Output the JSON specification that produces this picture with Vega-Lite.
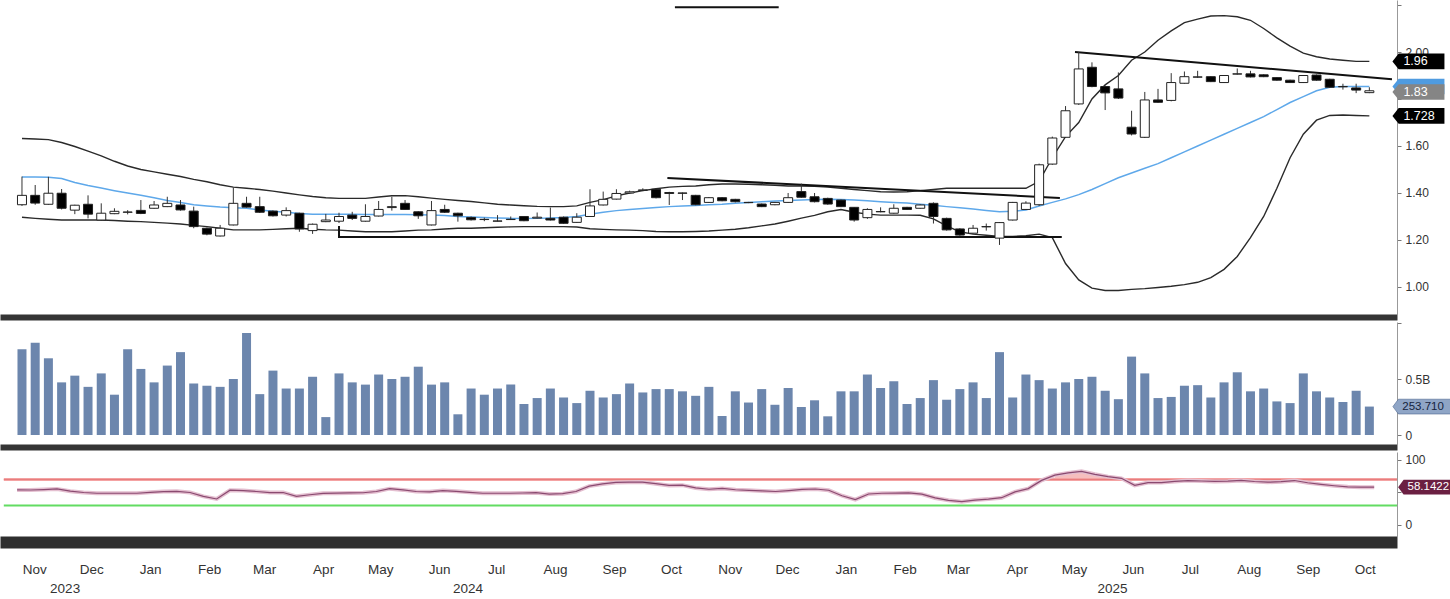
{
  "$schema": "https://vega.github.io/schema/vega-lite/v6.json",
  "padding": 0,
  "background": "white",
  "spacing": 5,
  "config": {
    "view": {"stroke": null},
    "font": "Liberation Sans, Arial, sans-serif",
    "axis": {"labelFont": "Liberation Sans, Arial, sans-serif", "labelColor": "#333", "labelFontSize": 12, "grid": false, "domainColor": "#999", "tickColor": "#777"},
    "text": {"font": "Liberation Sans, Arial, sans-serif"}
  },
  "datasets": {
    "bars": [
      {"d":"2023-10-23","o":1.35,"h":1.47,"l":1.345,"c":1.39,"v":765,"ma":1.468,"ub":1.632,"lb":1.297,"rsi":54},
      {"d":"2023-10-30","o":1.39,"h":1.434,"l":1.35,"c":1.357,"v":824,"ma":1.468,"ub":1.63,"lb":1.292,"rsi":53.8},
      {"d":"2023-11-06","o":1.352,"h":1.469,"l":1.35,"c":1.399,"v":685,"ma":1.467,"ub":1.627,"lb":1.288,"rsi":54.5},
      {"d":"2023-11-13","o":1.399,"h":1.417,"l":1.33,"c":1.335,"v":470,"ma":1.462,"ub":1.615,"lb":1.285,"rsi":55.5},
      {"d":"2023-11-20","o":1.327,"h":1.35,"l":1.31,"c":1.348,"v":530,"ma":1.445,"ub":1.598,"lb":1.285,"rsi":52},
      {"d":"2023-11-27","o":1.352,"h":1.39,"l":1.292,"c":1.31,"v":430,"ma":1.432,"ub":1.578,"lb":1.285,"rsi":50},
      {"d":"2023-12-04","o":1.285,"h":1.356,"l":1.283,"c":1.314,"v":550,"ma":1.421,"ub":1.558,"lb":1.285,"rsi":48.8},
      {"d":"2023-12-11","o":1.312,"h":1.335,"l":1.31,"c":1.322,"v":360,"ma":1.41,"ub":1.535,"lb":1.283,"rsi":48.8},
      {"d":"2023-12-18","o":1.318,"h":1.327,"l":1.309,"c":1.319,"v":765,"ma":1.4,"ub":1.515,"lb":1.28,"rsi":48.8},
      {"d":"2023-12-25","o":1.326,"h":1.37,"l":1.31,"c":1.313,"v":590,"ma":1.39,"ub":1.5,"lb":1.278,"rsi":48.8},
      {"d":"2024-01-01","o":1.335,"h":1.366,"l":1.333,"c":1.349,"v":470,"ma":1.38,"ub":1.49,"lb":1.275,"rsi":50.2},
      {"d":"2024-01-08","o":1.342,"h":1.384,"l":1.34,"c":1.356,"v":620,"ma":1.368,"ub":1.48,"lb":1.272,"rsi":51.4},
      {"d":"2024-01-15","o":1.349,"h":1.37,"l":1.325,"c":1.328,"v":740,"ma":1.36,"ub":1.47,"lb":1.268,"rsi":51.8},
      {"d":"2024-01-22","o":1.323,"h":1.342,"l":1.25,"c":1.257,"v":460,"ma":1.35,"ub":1.458,"lb":1.262,"rsi":50},
      {"d":"2024-01-29","o":1.25,"h":1.253,"l":1.22,"c":1.225,"v":440,"ma":1.345,"ub":1.448,"lb":1.257,"rsi":44},
      {"d":"2024-02-05","o":1.217,"h":1.264,"l":1.215,"c":1.25,"v":430,"ma":1.34,"ub":1.435,"lb":1.25,"rsi":40},
      {"d":"2024-02-12","o":1.264,"h":1.423,"l":1.262,"c":1.356,"v":500,"ma":1.337,"ub":1.425,"lb":1.243,"rsi":53.5},
      {"d":"2024-02-19","o":1.356,"h":1.384,"l":1.338,"c":1.34,"v":910,"ma":1.335,"ub":1.42,"lb":1.243,"rsi":53},
      {"d":"2024-02-26","o":1.342,"h":1.384,"l":1.315,"c":1.318,"v":365,"ma":1.328,"ub":1.415,"lb":1.243,"rsi":51.5},
      {"d":"2024-03-04","o":1.323,"h":1.326,"l":1.3,"c":1.303,"v":575,"ma":1.322,"ub":1.408,"lb":1.245,"rsi":49.8},
      {"d":"2024-03-11","o":1.306,"h":1.339,"l":1.3,"c":1.325,"v":415,"ma":1.318,"ub":1.4,"lb":1.248,"rsi":50},
      {"d":"2024-03-18","o":1.314,"h":1.316,"l":1.235,"c":1.247,"v":415,"ma":1.313,"ub":1.392,"lb":1.25,"rsi":44.1},
      {"d":"2024-03-25","o":1.24,"h":1.27,"l":1.226,"c":1.267,"v":520,"ma":1.31,"ub":1.385,"lb":1.246,"rsi":46.5},
      {"d":"2024-04-01","o":1.278,"h":1.311,"l":1.276,"c":1.285,"v":160,"ma":1.31,"ub":1.38,"lb":1.243,"rsi":48.7},
      {"d":"2024-04-08","o":1.28,"h":1.316,"l":1.272,"c":1.3,"v":550,"ma":1.31,"ub":1.377,"lb":1.242,"rsi":49},
      {"d":"2024-04-15","o":1.306,"h":1.32,"l":1.285,"c":1.292,"v":470,"ma":1.31,"ub":1.377,"lb":1.238,"rsi":49.3},
      {"d":"2024-04-22","o":1.28,"h":1.352,"l":1.278,"c":1.3,"v":450,"ma":1.309,"ub":1.377,"lb":1.235,"rsi":49.6},
      {"d":"2024-04-29","o":1.302,"h":1.366,"l":1.3,"c":1.33,"v":540,"ma":1.309,"ub":1.383,"lb":1.235,"rsi":51.5},
      {"d":"2024-05-06","o":1.338,"h":1.384,"l":1.325,"c":1.342,"v":500,"ma":1.309,"ub":1.388,"lb":1.235,"rsi":55.9},
      {"d":"2024-05-13","o":1.356,"h":1.37,"l":1.328,"c":1.33,"v":520,"ma":1.308,"ub":1.389,"lb":1.238,"rsi":54},
      {"d":"2024-05-20","o":1.32,"h":1.322,"l":1.29,"c":1.303,"v":610,"ma":1.307,"ub":1.384,"lb":1.242,"rsi":51.5},
      {"d":"2024-05-27","o":1.264,"h":1.366,"l":1.262,"c":1.325,"v":450,"ma":1.306,"ub":1.378,"lb":1.243,"rsi":51},
      {"d":"2024-06-03","o":1.33,"h":1.35,"l":1.315,"c":1.318,"v":470,"ma":1.304,"ub":1.373,"lb":1.247,"rsi":53},
      {"d":"2024-06-10","o":1.314,"h":1.316,"l":1.278,"c":1.303,"v":185,"ma":1.3,"ub":1.368,"lb":1.25,"rsi":51.8},
      {"d":"2024-06-17","o":1.296,"h":1.3,"l":1.283,"c":1.286,"v":415,"ma":1.298,"ub":1.364,"lb":1.25,"rsi":50.3},
      {"d":"2024-06-24","o":1.287,"h":1.295,"l":1.28,"c":1.288,"v":360,"ma":1.296,"ub":1.358,"lb":1.252,"rsi":48.8},
      {"d":"2024-07-01","o":1.28,"h":1.306,"l":1.279,"c":1.281,"v":415,"ma":1.294,"ub":1.352,"lb":1.254,"rsi":48.8},
      {"d":"2024-07-08","o":1.287,"h":1.3,"l":1.285,"c":1.288,"v":450,"ma":1.292,"ub":1.349,"lb":1.256,"rsi":48.8},
      {"d":"2024-07-15","o":1.3,"h":1.302,"l":1.28,"c":1.282,"v":277,"ma":1.291,"ub":1.346,"lb":1.257,"rsi":49.2},
      {"d":"2024-07-22","o":1.293,"h":1.317,"l":1.292,"c":1.297,"v":330,"ma":1.292,"ub":1.343,"lb":1.257,"rsi":49.7},
      {"d":"2024-07-29","o":1.292,"h":1.338,"l":1.283,"c":1.285,"v":415,"ma":1.294,"ub":1.342,"lb":1.257,"rsi":47.5},
      {"d":"2024-08-05","o":1.297,"h":1.3,"l":1.269,"c":1.271,"v":335,"ma":1.296,"ub":1.342,"lb":1.257,"rsi":48.2},
      {"d":"2024-08-12","o":1.275,"h":1.314,"l":1.273,"c":1.297,"v":285,"ma":1.3,"ub":1.345,"lb":1.255,"rsi":51.5},
      {"d":"2024-08-19","o":1.3,"h":1.416,"l":1.298,"c":1.345,"v":395,"ma":1.31,"ub":1.36,"lb":1.248,"rsi":59.8},
      {"d":"2024-08-26","o":1.349,"h":1.406,"l":1.347,"c":1.373,"v":335,"ma":1.318,"ub":1.372,"lb":1.245,"rsi":63.2},
      {"d":"2024-09-02","o":1.374,"h":1.416,"l":1.372,"c":1.398,"v":365,"ma":1.325,"ub":1.388,"lb":1.243,"rsi":65.5},
      {"d":"2024-09-09","o":1.4,"h":1.41,"l":1.398,"c":1.405,"v":460,"ma":1.33,"ub":1.4,"lb":1.242,"rsi":65.9},
      {"d":"2024-09-16","o":1.411,"h":1.42,"l":1.408,"c":1.413,"v":380,"ma":1.334,"ub":1.41,"lb":1.24,"rsi":66},
      {"d":"2024-09-23","o":1.416,"h":1.42,"l":1.377,"c":1.38,"v":410,"ma":1.338,"ub":1.418,"lb":1.236,"rsi":63.5},
      {"d":"2024-09-30","o":1.402,"h":1.405,"l":1.349,"c":1.398,"v":410,"ma":1.342,"ub":1.425,"lb":1.235,"rsi":60.8},
      {"d":"2024-10-07","o":1.4,"h":1.402,"l":1.37,"c":1.399,"v":390,"ma":1.345,"ub":1.428,"lb":1.235,"rsi":61.3},
      {"d":"2024-10-14","o":1.39,"h":1.392,"l":1.348,"c":1.35,"v":350,"ma":1.347,"ub":1.43,"lb":1.236,"rsi":57},
      {"d":"2024-10-21","o":1.36,"h":1.383,"l":1.358,"c":1.38,"v":430,"ma":1.35,"ub":1.435,"lb":1.238,"rsi":55},
      {"d":"2024-10-28","o":1.38,"h":1.382,"l":1.365,"c":1.367,"v":170,"ma":1.352,"ub":1.438,"lb":1.242,"rsi":56.3},
      {"d":"2024-11-04","o":1.373,"h":1.375,"l":1.36,"c":1.363,"v":390,"ma":1.356,"ub":1.438,"lb":1.246,"rsi":54.2},
      {"d":"2024-11-11","o":1.36,"h":1.362,"l":1.357,"c":1.359,"v":290,"ma":1.36,"ub":1.437,"lb":1.252,"rsi":53.3},
      {"d":"2024-11-18","o":1.353,"h":1.355,"l":1.34,"c":1.342,"v":410,"ma":1.363,"ub":1.435,"lb":1.26,"rsi":52.4},
      {"d":"2024-11-25","o":1.35,"h":1.362,"l":1.348,"c":1.36,"v":270,"ma":1.366,"ub":1.433,"lb":1.268,"rsi":51.5},
      {"d":"2024-12-02","o":1.36,"h":1.4,"l":1.358,"c":1.38,"v":420,"ma":1.368,"ub":1.43,"lb":1.28,"rsi":53},
      {"d":"2024-12-09","o":1.406,"h":1.44,"l":1.38,"c":1.382,"v":250,"ma":1.37,"ub":1.43,"lb":1.293,"rsi":54.7},
      {"d":"2024-12-16","o":1.384,"h":1.4,"l":1.36,"c":1.363,"v":310,"ma":1.372,"ub":1.428,"lb":1.305,"rsi":55.4},
      {"d":"2024-12-23","o":1.377,"h":1.38,"l":1.35,"c":1.353,"v":167,"ma":1.373,"ub":1.425,"lb":1.32,"rsi":53.4},
      {"d":"2024-12-30","o":1.37,"h":1.372,"l":1.34,"c":1.342,"v":390,"ma":1.372,"ub":1.42,"lb":1.33,"rsi":45},
      {"d":"2025-01-06","o":1.339,"h":1.34,"l":1.278,"c":1.285,"v":390,"ma":1.37,"ub":1.415,"lb":1.318,"rsi":39},
      {"d":"2025-01-13","o":1.295,"h":1.335,"l":1.29,"c":1.33,"v":540,"ma":1.367,"ub":1.41,"lb":1.31,"rsi":47.7},
      {"d":"2025-01-20","o":1.32,"h":1.339,"l":1.318,"c":1.321,"v":420,"ma":1.363,"ub":1.405,"lb":1.306,"rsi":48.8},
      {"d":"2025-01-27","o":1.314,"h":1.352,"l":1.312,"c":1.335,"v":480,"ma":1.36,"ub":1.404,"lb":1.306,"rsi":49},
      {"d":"2025-02-03","o":1.339,"h":1.341,"l":1.328,"c":1.33,"v":277,"ma":1.357,"ub":1.405,"lb":1.306,"rsi":49.4},
      {"d":"2025-02-10","o":1.335,"h":1.351,"l":1.333,"c":1.349,"v":330,"ma":1.352,"ub":1.41,"lb":1.305,"rsi":47.5},
      {"d":"2025-02-17","o":1.356,"h":1.36,"l":1.27,"c":1.3,"v":490,"ma":1.348,"ub":1.415,"lb":1.29,"rsi":41.6},
      {"d":"2025-02-24","o":1.292,"h":1.295,"l":1.24,"c":1.243,"v":315,"ma":1.342,"ub":1.42,"lb":1.26,"rsi":38},
      {"d":"2025-03-03","o":1.247,"h":1.25,"l":1.218,"c":1.221,"v":410,"ma":1.337,"ub":1.42,"lb":1.235,"rsi":35.8},
      {"d":"2025-03-10","o":1.229,"h":1.264,"l":1.227,"c":1.25,"v":470,"ma":1.332,"ub":1.42,"lb":1.225,"rsi":38.3},
      {"d":"2025-03-17","o":1.256,"h":1.27,"l":1.24,"c":1.257,"v":330,"ma":1.326,"ub":1.42,"lb":1.22,"rsi":39.8},
      {"d":"2025-03-24","o":1.208,"h":1.276,"l":1.179,"c":1.274,"v":740,"ma":1.32,"ub":1.42,"lb":1.215,"rsi":42},
      {"d":"2025-03-31","o":1.285,"h":1.362,"l":1.283,"c":1.36,"v":335,"ma":1.322,"ub":1.42,"lb":1.215,"rsi":51},
      {"d":"2025-04-07","o":1.33,"h":1.365,"l":1.328,"c":1.357,"v":540,"ma":1.328,"ub":1.42,"lb":1.218,"rsi":56},
      {"d":"2025-04-14","o":1.35,"h":1.525,"l":1.345,"c":1.52,"v":490,"ma":1.345,"ub":1.45,"lb":1.225,"rsi":68.6},
      {"d":"2025-04-21","o":1.523,"h":1.64,"l":1.52,"c":1.634,"v":415,"ma":1.36,"ub":1.55,"lb":1.21,"rsi":76.7},
      {"d":"2025-04-28","o":1.637,"h":1.77,"l":1.635,"c":1.75,"v":470,"ma":1.375,"ub":1.64,"lb":1.1,"rsi":80.2},
      {"d":"2025-05-05","o":1.779,"h":2.0,"l":1.775,"c":1.928,"v":500,"ma":1.393,"ub":1.7,"lb":1.03,"rsi":82.5},
      {"d":"2025-05-12","o":1.935,"h":1.956,"l":1.85,"c":1.853,"v":520,"ma":1.415,"ub":1.8,"lb":0.995,"rsi":78},
      {"d":"2025-05-19","o":1.853,"h":1.856,"l":1.753,"c":1.826,"v":395,"ma":1.44,"ub":1.86,"lb":0.985,"rsi":74.4},
      {"d":"2025-05-26","o":1.843,"h":1.913,"l":1.8,"c":1.804,"v":320,"ma":1.465,"ub":1.9,"lb":0.985,"rsi":71.8},
      {"d":"2025-06-02","o":1.68,"h":1.75,"l":1.645,"c":1.651,"v":700,"ma":1.485,"ub":1.965,"lb":0.99,"rsi":61},
      {"d":"2025-06-09","o":1.637,"h":1.83,"l":1.634,"c":1.796,"v":550,"ma":1.505,"ub":2.0,"lb":0.993,"rsi":65.3},
      {"d":"2025-06-16","o":1.796,"h":1.843,"l":1.784,"c":1.786,"v":330,"ma":1.525,"ub":2.05,"lb":0.998,"rsi":65.3},
      {"d":"2025-06-23","o":1.794,"h":1.91,"l":1.79,"c":1.87,"v":340,"ma":1.55,"ub":2.09,"lb":1.003,"rsi":67},
      {"d":"2025-06-30","o":1.867,"h":1.917,"l":1.865,"c":1.895,"v":440,"ma":1.575,"ub":2.125,"lb":1.01,"rsi":68.4},
      {"d":"2025-07-07","o":1.893,"h":1.92,"l":1.89,"c":1.894,"v":445,"ma":1.6,"ub":2.14,"lb":1.02,"rsi":67.7},
      {"d":"2025-07-14","o":1.895,"h":1.897,"l":1.872,"c":1.874,"v":335,"ma":1.625,"ub":2.153,"lb":1.04,"rsi":67},
      {"d":"2025-07-21","o":1.87,"h":1.902,"l":1.868,"c":1.9,"v":470,"ma":1.65,"ub":2.155,"lb":1.075,"rsi":67.4},
      {"d":"2025-07-28","o":1.906,"h":1.93,"l":1.904,"c":1.907,"v":560,"ma":1.675,"ub":2.15,"lb":1.13,"rsi":68.5},
      {"d":"2025-08-04","o":1.907,"h":1.92,"l":1.892,"c":1.894,"v":390,"ma":1.7,"ub":2.135,"lb":1.21,"rsi":66.9},
      {"d":"2025-08-11","o":1.903,"h":1.905,"l":1.893,"c":1.895,"v":415,"ma":1.725,"ub":2.1,"lb":1.3,"rsi":65.8},
      {"d":"2025-08-18","o":1.891,"h":1.893,"l":1.878,"c":1.88,"v":300,"ma":1.755,"ub":2.06,"lb":1.42,"rsi":66.6},
      {"d":"2025-08-25","o":1.88,"h":1.882,"l":1.868,"c":1.87,"v":285,"ma":1.785,"ub":2.025,"lb":1.55,"rsi":68.4},
      {"d":"2025-09-01","o":1.87,"h":1.902,"l":1.868,"c":1.9,"v":550,"ma":1.81,"ub":1.995,"lb":1.65,"rsi":65},
      {"d":"2025-09-08","o":1.902,"h":1.904,"l":1.878,"c":1.88,"v":390,"ma":1.835,"ub":1.98,"lb":1.71,"rsi":62.5},
      {"d":"2025-09-15","o":1.884,"h":1.886,"l":1.848,"c":1.85,"v":335,"ma":1.85,"ub":1.97,"lb":1.73,"rsi":60.4},
      {"d":"2025-09-22","o":1.852,"h":1.865,"l":1.84,"c":1.853,"v":295,"ma":1.853,"ub":1.965,"lb":1.732,"rsi":58.7},
      {"d":"2025-09-29","o":1.847,"h":1.865,"l":1.825,"c":1.838,"v":395,"ma":1.853,"ub":1.96,"lb":1.73,"rsi":58.2},
      {"d":"2025-10-06","o":1.827,"h":1.85,"l":1.825,"c":1.835,"v":254,"ma":1.853,"ub":1.96,"lb":1.728,"rsi":58.14}
    ],
    "lines": [
      {"id":"A","i":0,"d":"2024-09-29","p":1.464},
      {"id":"A","i":1,"d":"2025-04-25","p":1.379},
      {"id":"B","i":0,"d":"2024-04-08","p":1.26},
      {"id":"B","i":1,"d":"2024-04-08","p":1.213},
      {"id":"B","i":2,"d":"2025-04-26","p":1.213},
      {"id":"C","i":0,"d":"2025-05-03","p":2.0},
      {"id":"C","i":1,"d":"2025-10-18","p":1.884},
      {"id":"D","i":0,"d":"2024-10-03","p":2.19},
      {"id":"D","i":1,"d":"2024-11-27","p":2.19}
    ],
    "tags": [
      {"panel":"p","kind":"band","label":"1.96","v":1.96},
      {"panel":"p","kind":"ma","label":"","v":1.853},
      {"panel":"p","kind":"px","label":"1.83","v":1.83},
      {"panel":"p","kind":"band","label":"1.728","v":1.728},
      {"panel":"v","kind":"vol","label":"253.710","v":253.71},
      {"panel":"r","kind":"rsi","label":"58.1422","v":58.1422}
    ]
  },
  "vconcat": [
    {
      "width": 1397,
      "height": 317,
      "layer": [
        {
          "data": {"name": "bars"},
          "mark": {"type": "line", "color": "#2a2a2a", "strokeWidth": 1.4},
          "encoding": {
            "x": {"field": "d", "type": "temporal", "scale": {"type": "utc", "domain": [{"year":2023,"month":10,"date":14,"utc":true},{"year":2025,"month":10,"date":18,"utc":true}]}, "axis": {"labels": false, "ticks": false, "domain": true, "domainWidth": 6, "domainColor": "#353535", "title": null}},
            "y": {"field": "ub", "type": "quantitative", "scale": {"domain": [0.8723, 2.2213], "nice": false, "zero": false}, "axis": {"orient": "right", "title": null, "format": ".2f", "tickCount": 7, "labelExpr": "(datum.value > 2.15 || (datum.value > 1.75 && datum.value < 1.85)) ? '' : datum.label", "tickSize": 4, "labelPadding": 4}}
          }
        },
        {
          "data": {"name": "bars"},
          "mark": {"type": "line", "color": "#2a2a2a", "strokeWidth": 1.4},
          "encoding": {
            "x": {"field": "d", "type": "temporal", "scale": {"type": "utc", "domain": [{"year":2023,"month":10,"date":14,"utc":true},{"year":2025,"month":10,"date":18,"utc":true}]}},
            "y": {"field": "lb", "type": "quantitative", "scale": {"domain": [0.8723, 2.2213], "nice": false, "zero": false}}
          }
        },
        {
          "data": {"name": "bars"},
          "mark": {"type": "line", "color": "#5ea8ea", "strokeWidth": 1.5},
          "encoding": {
            "x": {"field": "d", "type": "temporal", "scale": {"type": "utc", "domain": [{"year":2023,"month":10,"date":14,"utc":true},{"year":2025,"month":10,"date":18,"utc":true}]}},
            "y": {"field": "ma", "type": "quantitative", "scale": {"domain": [0.8723, 2.2213], "nice": false, "zero": false}}
          }
        },
        {
          "data": {"name": "lines"},
          "mark": {"type": "line", "color": "#111", "strokeWidth": 2},
          "encoding": {
            "x": {"field": "d", "type": "temporal", "scale": {"type": "utc", "domain": [{"year":2023,"month":10,"date":14,"utc":true},{"year":2025,"month":10,"date":18,"utc":true}]}},
            "y": {"field": "p", "type": "quantitative", "scale": {"domain": [0.8723, 2.2213], "nice": false, "zero": false}},
            "detail": {"field": "id"},
            "order": {"field": "i"}
          }
        },
        {
          "data": {"name": "bars"},
          "mark": {"type": "rule", "color": "#333", "strokeWidth": 1},
          "encoding": {
            "x": {"field": "d", "type": "temporal", "scale": {"type": "utc", "domain": [{"year":2023,"month":10,"date":14,"utc":true},{"year":2025,"month":10,"date":18,"utc":true}]}},
            "y": {"field": "l", "type": "quantitative", "scale": {"domain": [0.8723, 2.2213], "nice": false, "zero": false}},
            "y2": {"field": "h"}
          }
        },
        {
          "data": {"name": "bars"},
          "mark": {"type": "bar", "width": 9, "stroke": "#222", "strokeWidth": 1},
          "encoding": {
            "x": {"field": "d", "type": "temporal", "scale": {"type": "utc", "domain": [{"year":2023,"month":10,"date":14,"utc":true},{"year":2025,"month":10,"date":18,"utc":true}]}},
            "y": {"field": "o", "type": "quantitative", "scale": {"domain": [0.8723, 2.2213], "nice": false, "zero": false}},
            "y2": {"field": "c"},
            "fill": {"condition": {"test": "datum.c < datum.o", "value": "#000"}, "value": "#fff"}
          }
        },
        {
          "data": {"name": "tags"},
          "transform": [{"filter": "datum.panel == 'p'"}],
          "mark": {"type": "point", "shape": "M-1,0L-0.76,-0.3L1,-0.3L1,0.3L-0.76,0.3Z", "filled": true, "size": 2704, "opacity": 1, "strokeWidth": 0},
          "encoding": {
            "x": {"datum": {"year":2025,"month":11,"date":1,"utc":true}, "type": "temporal", "scale": {"type": "utc", "domain": [{"year":2023,"month":10,"date":14,"utc":true},{"year":2025,"month":10,"date":18,"utc":true}]}},
            "y": {"field": "v", "type": "quantitative", "scale": {"domain": [0.8723, 2.2213], "nice": false, "zero": false}},
            "color": {"field": "kind", "type": "nominal", "scale": {"domain": ["band","ma","px"], "range": ["#000000","#4f9be0","#858585"]}, "legend": null}
          }
        },
        {
          "data": {"name": "tags"},
          "transform": [{"filter": "datum.panel == 'p'"}],
          "mark": {"type": "text", "align": "left", "baseline": "middle", "dx": -15, "fontSize": 12.5, "color": "#fff"},
          "encoding": {
            "x": {"datum": {"year":2025,"month":11,"date":1,"utc":true}, "type": "temporal", "scale": {"type": "utc", "domain": [{"year":2023,"month":10,"date":14,"utc":true},{"year":2025,"month":10,"date":18,"utc":true}]}},
            "y": {"field": "v", "type": "quantitative", "scale": {"domain": [0.8723, 2.2213], "nice": false, "zero": false}},
            "text": {"field": "label"}
          }
        }
      ]
    },
    {
      "width": 1397,
      "height": 125,
      "layer": [
        {
          "data": {"name": "bars"},
          "mark": {"type": "bar", "width": 9, "color": "#6c86ad"},
          "encoding": {
            "x": {"field": "d", "type": "temporal", "scale": {"type": "utc", "domain": [{"year":2023,"month":10,"date":14,"utc":true},{"year":2025,"month":10,"date":18,"utc":true}]}, "axis": {"labels": false, "ticks": false, "domain": true, "domainWidth": 6, "domainColor": "#353535", "title": null}},
            "y": {"field": "v", "type": "quantitative", "scale": {"domain": [-107, 1009], "nice": false, "zero": false}, "axis": {"orient": "right", "title": null, "values": [0, 250, 500, 750, 1000], "labelExpr": "datum.value == 0 ? '0' : datum.value == 500 ? '0.5B' : ''", "tickSize": 4, "labelPadding": 4}},
            "y2": {"datum": 0}
          }
        },
        {
          "data": {"name": "tags"},
          "transform": [{"filter": "datum.panel == 'v'"}],
          "mark": {"type": "point", "shape": "M-1,0L-0.8,-0.27L1.2,-0.27L1.2,0.27L-0.8,0.27Z", "filled": true, "size": 3000, "opacity": 1, "stroke": "#4d6790", "strokeWidth": 0.6, "color": "#8fa5c6"},
          "encoding": {
            "x": {"datum": {"year":2025,"month":11,"date":2,"utc":true}, "type": "temporal", "scale": {"type": "utc", "domain": [{"year":2023,"month":10,"date":14,"utc":true},{"year":2025,"month":10,"date":18,"utc":true}]}},
            "y": {"field": "v", "type": "quantitative", "scale": {"domain": [-107, 1009], "nice": false, "zero": false}}
          }
        },
        {
          "data": {"name": "tags"},
          "transform": [{"filter": "datum.panel == 'v'"}],
          "mark": {"type": "text", "align": "left", "baseline": "middle", "dx": -18, "fontSize": 11.5, "color": "#15233d"},
          "encoding": {
            "x": {"datum": {"year":2025,"month":11,"date":2,"utc":true}, "type": "temporal", "scale": {"type": "utc", "domain": [{"year":2023,"month":10,"date":14,"utc":true},{"year":2025,"month":10,"date":18,"utc":true}]}},
            "y": {"field": "v", "type": "quantitative", "scale": {"domain": [-107, 1009], "nice": false, "zero": false}},
            "text": {"field": "label"}
          }
        }
      ]
    },
    {
      "width": 1397,
      "height": 85,
      "layer": [
        {
          "data": {"name": "bars"},
          "transform": [{"filter": "datum.rsi >= 70"}],
          "mark": {"type": "area", "color": "#f4b3b3", "opacity": 0.85},
          "encoding": {
            "x": {"field": "d", "type": "temporal", "scale": {"type": "utc", "domain": [{"year":2023,"month":10,"date":14,"utc":true},{"year":2025,"month":10,"date":18,"utc":true}]}, "axis": {"title": null, "ticks": false, "tickSize": 0, "domain": true, "domainWidth": 12, "domainColor": "#2e2e2e", "offset": 5, "labelPadding": 20, "labelFontSize": 13.5, "labelColor": "#333", "labelLineHeight": 19, "labelOverlap": false, "labelFlush": false, "labelAlign": "center", "labelBaseline": "top",
              "values": [
                {"year":2023,"month":11,"date":1,"utc":true},{"year":2023,"month":12,"date":1,"utc":true},
                {"year":2024,"month":1,"date":1,"utc":true},{"year":2024,"month":2,"date":1,"utc":true},{"year":2024,"month":3,"date":1,"utc":true},{"year":2024,"month":4,"date":1,"utc":true},{"year":2024,"month":5,"date":1,"utc":true},{"year":2024,"month":6,"date":1,"utc":true},{"year":2024,"month":7,"date":1,"utc":true},{"year":2024,"month":8,"date":1,"utc":true},{"year":2024,"month":9,"date":1,"utc":true},{"year":2024,"month":10,"date":1,"utc":true},{"year":2024,"month":11,"date":1,"utc":true},{"year":2024,"month":12,"date":1,"utc":true},
                {"year":2025,"month":1,"date":1,"utc":true},{"year":2025,"month":2,"date":1,"utc":true},{"year":2025,"month":3,"date":1,"utc":true},{"year":2025,"month":4,"date":1,"utc":true},{"year":2025,"month":5,"date":1,"utc":true},{"year":2025,"month":6,"date":1,"utc":true},{"year":2025,"month":7,"date":1,"utc":true},{"year":2025,"month":8,"date":1,"utc":true},{"year":2025,"month":9,"date":1,"utc":true},{"year":2025,"month":10,"date":1,"utc":true},
                {"year":2023,"month":11,"date":17,"utc":true},{"year":2024,"month":6,"date":16,"utc":true},{"year":2025,"month":5,"date":21,"utc":true}
              ],
              "labelExpr": "utcdate(datum.value) == 1 ? utcFormat(datum.value, '%b') : ['', utcFormat(datum.value, '%Y')]"}},
            "y": {"field": "rsi", "type": "quantitative", "scale": {"domain": [-18.5, 112.3], "nice": false, "zero": false}, "axis": {"orient": "right", "title": null, "values": [0, 50, 100], "labelExpr": "datum.value == 50 ? '' : datum.label", "tickSize": 4, "labelPadding": 4}},
            "y2": {"datum": 70}
          }
        },
        {
          "data": {"name": "tags"},
          "transform": [{"filter": "datum.panel == 'r'"}],
          "mark": {"type": "rule", "color": "#f4a3a3", "strokeWidth": 3},
          "encoding": {
            "x": {"datum": {"year":2023,"month":10,"date":16,"utc":true}, "type": "temporal", "scale": {"type": "utc", "domain": [{"year":2023,"month":10,"date":14,"utc":true},{"year":2025,"month":10,"date":18,"utc":true}]}},
            "x2": {"datum": {"year":2025,"month":10,"date":18,"utc":true}},
            "y": {"datum": 70, "type": "quantitative", "scale": {"domain": [-18.5, 112.3], "nice": false, "zero": false}}
          }
        },
        {
          "data": {"name": "tags"},
          "transform": [{"filter": "datum.panel == 'r'"}],
          "mark": {"type": "rule", "color": "#e57373", "strokeWidth": 0.8},
          "encoding": {
            "x": {"datum": {"year":2023,"month":10,"date":16,"utc":true}, "type": "temporal", "scale": {"type": "utc", "domain": [{"year":2023,"month":10,"date":14,"utc":true},{"year":2025,"month":10,"date":18,"utc":true}]}},
            "x2": {"datum": {"year":2025,"month":10,"date":18,"utc":true}},
            "y": {"datum": 70, "type": "quantitative", "scale": {"domain": [-18.5, 112.3], "nice": false, "zero": false}}
          }
        },
        {
          "data": {"name": "tags"},
          "transform": [{"filter": "datum.panel == 'r'"}],
          "mark": {"type": "rule", "color": "#62dc62", "strokeWidth": 2},
          "encoding": {
            "x": {"datum": {"year":2023,"month":10,"date":16,"utc":true}, "type": "temporal", "scale": {"type": "utc", "domain": [{"year":2023,"month":10,"date":14,"utc":true},{"year":2025,"month":10,"date":18,"utc":true}]}},
            "x2": {"datum": {"year":2025,"month":10,"date":18,"utc":true}},
            "y": {"datum": 30, "type": "quantitative", "scale": {"domain": [-18.5, 112.3], "nice": false, "zero": false}}
          }
        },
        {
          "data": {"name": "bars"},
          "mark": {"type": "line", "color": "#e4bfd0", "strokeWidth": 4},
          "encoding": {
            "x": {"field": "d", "type": "temporal", "scale": {"type": "utc", "domain": [{"year":2023,"month":10,"date":14,"utc":true},{"year":2025,"month":10,"date":18,"utc":true}]}},
            "y": {"field": "rsi", "type": "quantitative", "scale": {"domain": [-18.5, 112.3], "nice": false, "zero": false}}
          }
        },
        {
          "data": {"name": "bars"},
          "mark": {"type": "line", "color": "#8a4a70", "strokeWidth": 1.2},
          "encoding": {
            "x": {"field": "d", "type": "temporal", "scale": {"type": "utc", "domain": [{"year":2023,"month":10,"date":14,"utc":true},{"year":2025,"month":10,"date":18,"utc":true}]}},
            "y": {"field": "rsi", "type": "quantitative", "scale": {"domain": [-18.5, 112.3], "nice": false, "zero": false}}
          }
        },
        {
          "data": {"name": "tags"},
          "transform": [{"filter": "datum.panel == 'r'"}],
          "mark": {"type": "point", "shape": "M-1,0L-0.8,-0.27L1.2,-0.27L1.2,0.27L-0.8,0.27Z", "filled": true, "size": 3000, "opacity": 1, "strokeWidth": 0, "color": "#6b1f42"},
          "encoding": {
            "x": {"datum": {"year":2025,"month":11,"date":2,"utc":true}, "type": "temporal", "scale": {"type": "utc", "domain": [{"year":2023,"month":10,"date":14,"utc":true},{"year":2025,"month":10,"date":18,"utc":true}]}},
            "y": {"field": "v", "type": "quantitative", "scale": {"domain": [-18.5, 112.3], "nice": false, "zero": false}}
          }
        },
        {
          "data": {"name": "tags"},
          "transform": [{"filter": "datum.panel == 'r'"}],
          "mark": {"type": "text", "align": "left", "baseline": "middle", "dx": -18, "fontSize": 11.5, "color": "#fff"},
          "encoding": {
            "x": {"datum": {"year":2025,"month":11,"date":2,"utc":true}, "type": "temporal", "scale": {"type": "utc", "domain": [{"year":2023,"month":10,"date":14,"utc":true},{"year":2025,"month":10,"date":18,"utc":true}]}},
            "y": {"field": "v", "type": "quantitative", "scale": {"domain": [-18.5, 112.3], "nice": false, "zero": false}},
            "text": {"field": "label"}
          }
        }
      ]
    }
  ]
}
